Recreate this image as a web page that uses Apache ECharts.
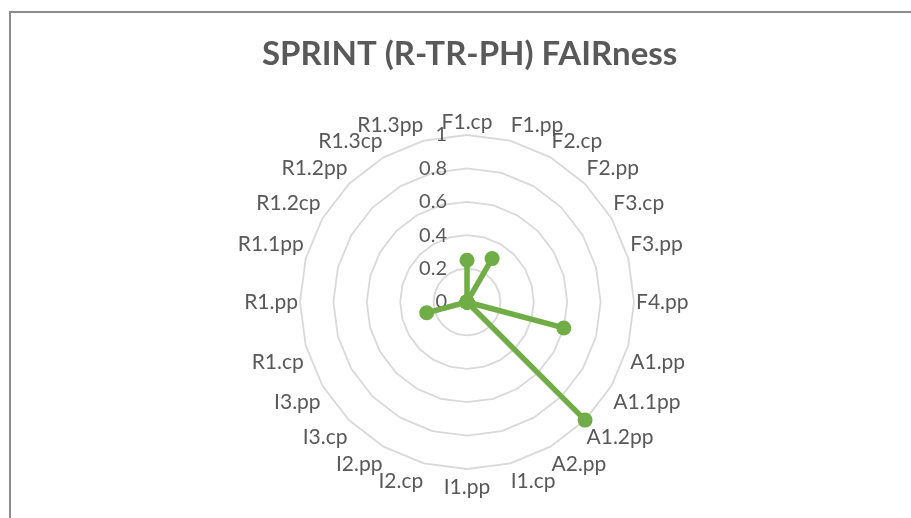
<!DOCTYPE html>
<html>
<head>
<meta charset="utf-8">
<script src="https://cdn.jsdelivr.net/npm/echarts@6/dist/echarts.min.js"></script>
<style>
  html, body { margin: 0; padding: 0; background: #fff; }
  #frame { position: absolute; left: 9px; top: 11px; width: 1000px; height: 600px;
           border-top: 2px solid #8c8c8c; border-left: 2px solid #8c8c8c; }
  #main { position: absolute; left: 0; top: 0; width: 911px; height: 518px; }
</style>
</head>
<body>
<div id="frame"></div>
<div id="main"></div>
<script>
// 指标名 (clockwise from top, like the original)
var indicators = ['F1.cp', 'F1.pp', 'F2.cp', 'F2.pp', 'F3.cp', 'F3.pp', 'F4.pp',
    'A1.pp', 'A1.1pp', 'A1.2pp', 'A2.pp', 'I1.cp', 'I1.pp', 'I2.cp', 'I2.pp',
    'I3.cp', 'I3.pp', 'R1.cp', 'R1.pp', 'R1.1pp', 'R1.2cp', 'R1.2pp', 'R1.3cp', 'R1.3pp'];
var fairness = [0.25, 0, 0.3, 0, 0, 0, 0,
    0.6, 0, 1, 0, 0, 0, 0, 0,
    0, 0, 0.25, 0, 0, 0, 0, 0, 0];
var scaleTicks = [0, 0.2, 0.4, 0.6, 0.8, 1];

var textColor = '#595959';
var font = 'Lato, "Open Sans", sans-serif';
var cx = 467, cy = 302, r = 167;

// echarts radar goes counter-clockwise, so flip the order after the first axis
var order = [0];
for (var i = indicators.length - 1; i > 0; i--) order.push(i);

var myChart = echarts.init(document.getElementById('main'));
var option = {
    backgroundColor: 'transparent',
    title: {
        text: 'SPRINT (R-TR-PH) FAIRness',
        left: 257,
        top: 33,
        textStyle: {
            color: textColor,
            fontSize: 33,
            fontWeight: 'bold',
            fontFamily: font
        }
    },
    radar: {
        center: [cx, cy],
        radius: r,
        startAngle: 90,
        shape: 'polygon',
        splitNumber: scaleTicks.length - 1,
        indicator: order.map(function (k) {
            return { name: indicators[k], min: 0, max: 1 };
        }),
        axisName: {
            color: textColor,
            fontSize: 21,
            fontFamily: font,
            // excel hangs the side labels above / below the vertex
            formatter: function (name) {
                var deg = indicators.indexOf(name) * 360 / indicators.length;
                if (deg === 180) return '{low|' + name + '}';
                if (deg % 90 === 0) return name;
                if (deg < 90 || deg > 270) return '{up|' + name + '}';
                return '{down|' + name + '}';
            },
            rich: {
                up: { fontSize: 21, fontFamily: font, color: textColor, padding: [0, 0, 28, 0] },
                down: { fontSize: 21, fontFamily: font, color: textColor, padding: [32, 0, 0, 0] },
                low: { fontSize: 21, fontFamily: font, color: textColor, padding: [6, 0, 0, 0] }
            }
        },
        nameGap: 2,
        axisLine: { show: false },
        splitArea: { show: false },
        splitLine: {
            lineStyle: { color: '#d9d9d9', width: 1.8 }
        }
    },
    polar: {
        center: [cx, cy],
        radius: r
    },
    angleAxis: {
        show: false,
        type: 'value',
        min: 0,
        max: 360,
        startAngle: 90
    },
    radiusAxis: {
        type: 'value',
        min: 0,
        max: 1,
        interval: 0.2,
        axisLine: { show: false },
        axisTick: { show: false },
        splitLine: { show: false },
        axisLabel: {
            color: textColor,
            fontSize: 20,
            fontFamily: font,
            margin: 20
        }
    },
    series: [
        {
            type: 'radar',
            symbol: 'circle',
            symbolSize: 15,
            lineStyle: { color: '#70ad47', width: 5.5 },
            itemStyle: { color: '#70ad47' },
            data: [
                { value: order.map(function (k) { return fairness[k]; }), name: 'FAIRness' }
            ]
        }
    ]
};
myChart.setOption(option);
</script>
</body>
</html>
